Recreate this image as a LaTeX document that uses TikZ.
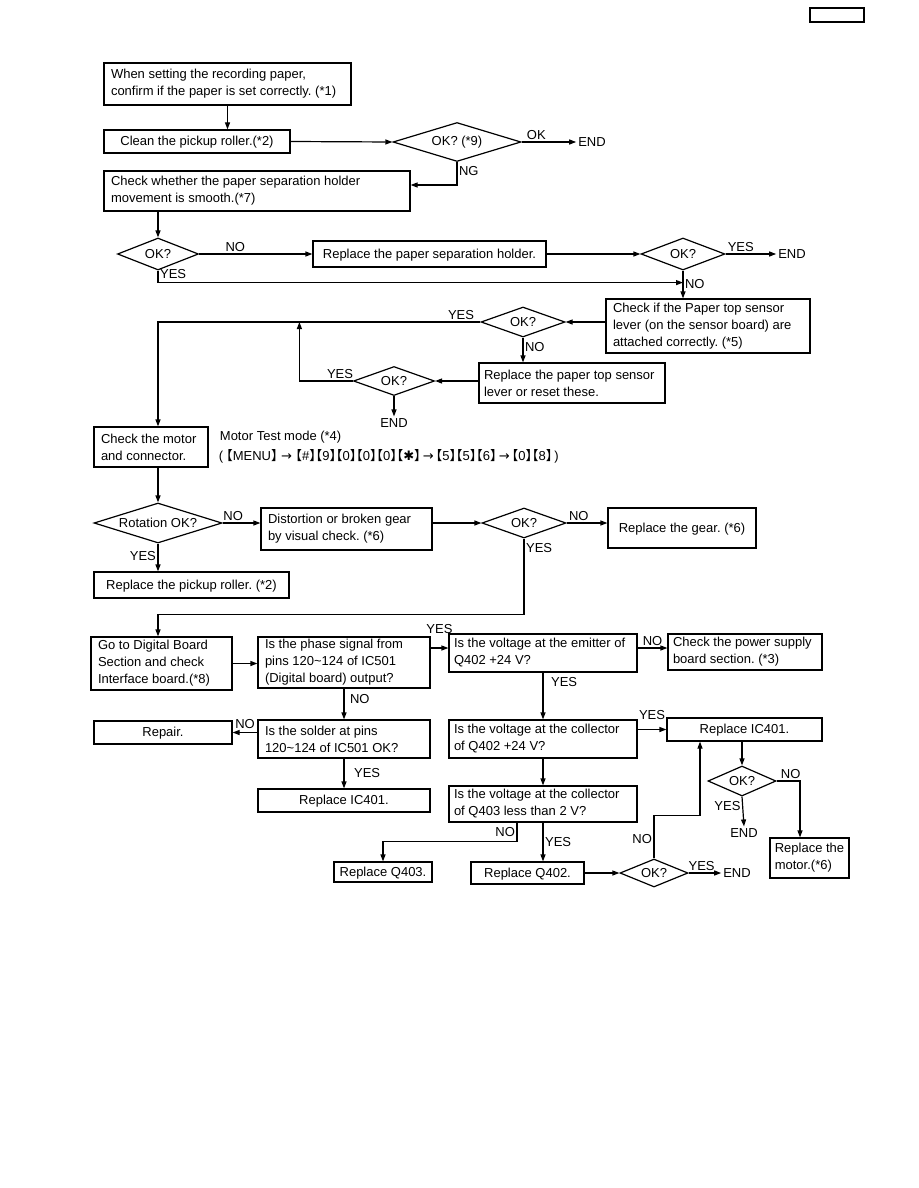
\documentclass[tikz,border=0pt]{standalone}
\usepackage{fontspec}
\setmainfont{Liberation Sans}
\newfontfamily\bracketfont[RawFeature=+halt]{Noto Sans CJK JP}
\newfontfamily\symbolfont{DejaVu Sans}
\usetikzlibrary{shapes.geometric, arrows.meta}

\newcommand{\mainsize}{\fontsize{13}{17}\selectfont\frenchspacing\hyphenpenalty=10000\relax}
\newcommand{\keytop}[1]{{\bracketfont 【}#1{\bracketfont 】}}
\newcommand{\rarr}{{\symbolfont →}}

\begin{document}
\begin{tikzpicture}[
    x=1pt, y=-1pt,
    line width=1.2pt,
    font=\mainsize,
    box/.style={draw, rectangle, inner xsep=7pt, inner ysep=2pt, align=flush left},
    onebox/.style={box, inner xsep=3pt, text height=9pt, text depth=0.5pt},
    check/.style={draw, diamond, inner sep=0pt, aspect=3},
    lbl/.style={inner sep=1.5pt},
    arrow/.style={-{Triangle[length=7pt, width=5pt]}}
  ]
    \useasboundingbox (0,0) rectangle (918,1188);

    % page number frame
    \node[draw, minimum width=54pt, minimum height=14pt] (pagebox) at (837,15) {};

    % Paper setting and pickup roller
    \node[box, text width=233pt, minimum height=42pt] (setpaper) at (227.5,84) {When setting the recording paper,\\confirm if the paper is set correctly. (*1)};
    \node[onebox, minimum width=186pt, minimum height=23pt] (clean) at (197,141.5) {Clean the pickup roller.(*2)};
    \node[check, minimum width=128pt, minimum height=39pt] (ok1) at (457,142) {OK? (*9)};
    \node[lbl] (end1) at (592,142) {END};
    \node[box, text width=292pt, minimum height=40pt] (holder) at (257,191) {Check whether the paper separation holder\\movement is smooth.(*7)};

    % Separation holder
    \node[check, minimum width=81pt, minimum height=32pt] (ok2) at (158,254) {OK?};
    \node[onebox, minimum width=233pt, minimum height=26pt] (repholder) at (429.5,254) {Replace the paper separation holder.};
    \node[check, minimum width=84pt, minimum height=32pt] (ok3) at (683,254) {OK?};
    \node[lbl] (end2) at (792,254) {END};

    % Paper top sensor
    \node[box, text width=190pt, minimum height=54pt] (sensor) at (708,326) {Check if the Paper top sensor\\lever (on the sensor board) are\\attached correctly. (*5)};
    \node[check, minimum width=84pt, minimum height=30pt] (ok4) at (523,322) {OK?};
    \node[box, inner xsep=5pt, text width=176pt, minimum height=40pt] (repsensor) at (572,383) {Replace the paper top sensor\\lever or reset these.};
    \node[check, minimum width=81pt, minimum height=29pt] (ok5) at (394,381) {OK?};
    \node[lbl] (end3) at (394,423) {END};

    % Motor
    \node[box, text width=100pt, minimum height=40pt] (motor) at (151,447) {Check the motor\\and connector.};
    \node[anchor=west] (mtest) at (216,437) {Motor Test mode (*4)};
    \node[anchor=west] (mkeys) at (215,456) {(\kern3pt\keytop{MENU} \rarr\ \keytop{\#}\keytop{9}\keytop{0}\keytop{0}\keytop{0}\keytop{{\symbolfont ✱}}\,\rarr\,\keytop{5}\keytop{5}\keytop{6}\,\rarr\,\keytop{0}\keytop{8}\kern2pt)};
    \node[check, minimum width=128pt, minimum height=40pt] (rot) at (158,523) {Rotation OK?};
    \node[box, text width=157pt, minimum height=42pt] (gear) at (346.5,529) {Distortion or broken gear\\by visual check. (*6)};
    \node[check, minimum width=84pt, minimum height=30pt] (ok7) at (524,523) {OK?};
    \node[onebox, minimum width=148pt, minimum height=40pt] (repgear) at (682,528) {Replace the gear. (*6)};
    \node[onebox, minimum width=195pt, minimum height=26pt] (roller) at (191.5,585) {Replace the pickup roller. (*2)};

    % Digital board and drive circuit
    \node[box, text width=127pt, minimum height=53pt] (digital) at (161.5,663.5) {Go to Digital Board\\Section and check\\Interface board.(*8)};
    \node[box, text width=158pt, minimum height=51pt] (phase) at (344,662.5) {Is the phase signal from\\pins 120\textasciitilde124 of IC501\\(Digital board) output?};
    \node[box, inner xsep=5pt, text width=178pt, minimum height=38pt] (emitter) at (543,653) {Is the voltage at the emitter of\\Q402 +24 V?};
    \node[box, inner xsep=5pt, text width=144pt, minimum height=36pt] (power) at (745,652) {Check the power supply\\board section. (*3)};
    \node[box, text width=158pt, minimum height=38pt] (solder) at (344,739) {Is the solder at pins\\120\textasciitilde124 of IC501 OK?};
    \node[onebox, minimum width=138pt, minimum height=23pt] (repair) at (163,732.5) {Repair.};
    \node[onebox, minimum width=172pt, minimum height=23pt] (ic1) at (344,800.5) {Replace IC401.};
    \node[box, inner xsep=5pt, text width=178pt, minimum height=38pt] (coll402) at (543,739) {Is the voltage at the collector\\of Q402 +24 V?};
    \node[onebox, minimum width=155pt, minimum height=23pt] (ic2) at (744.5,729.5) {Replace IC401.};
    \node[box, inner xsep=5pt, text width=178pt, minimum height=36pt] (coll403) at (543,804) {Is the voltage at the collector\\of Q403 less than 2 V?};
    \node[onebox, minimum width=98pt, minimum height=20pt] (q403) at (383,872) {Replace Q403.};
    \node[onebox, minimum width=113pt, minimum height=22pt] (q402) at (527.5,873) {Replace Q402.};
    \node[check, minimum width=68pt, minimum height=28pt] (ok8) at (654,873) {OK?};
    \node[lbl] (end4) at (737,873) {END};
    \node[check, minimum width=68pt, minimum height=30pt] (ok9) at (742,781) {OK?};
    \node[box, inner xsep=4pt, minimum width=79pt, minimum height=40pt] (repmotor) at (809.5,858) {Replace the\\motor.(*6)};
    \node[lbl] (end5) at (744,833) {END};

    % Connectors, top part
    \draw[arrow] (setpaper.south) -- (setpaper.south |- clean.north);
    \draw[arrow] (clean.east) -- (ok1.west);
    \draw[arrow] (ok1.east) -- node[lbl, above, pos=0.27] {OK} (end1.west);
    \draw[arrow] (ok1.south) |- node[lbl, right, pos=0.2] {NG} ([yshift=6pt]holder.east);
    \draw[arrow] (holder.south -| ok2.north) -- (ok2.north);
    \draw[arrow] (ok2.east) -- node[lbl, above, pos=0.32] {NO} (repholder.west);
    \draw[arrow] (repholder.east) -- (ok3.west);
    \draw[arrow] (ok3.east) -- node[lbl, above, pos=0.3] {YES} (end2.west);
    \draw[arrow] (ok2.south) |- node[lbl, right, pos=0.15] {YES} ([yshift=-12pt]ok3.south);
    \draw[arrow] (ok3.south) -- node[lbl, right, pos=0.5] {NO} (ok3.south |- sensor.north);
    \draw[arrow] (ok4.east -| sensor.west) -- (ok4.east);
    \draw[arrow] (ok4.west) -| node[lbl, above, pos=0.03] {YES} (rot.north |- motor.north);
    \draw[arrow] (ok4.south) -- node[lbl, right, pos=0.4] {NO} (ok4.south |- repsensor.north);
    \draw[arrow] (ok5.east -| repsensor.west) -- (ok5.east);
    \draw[arrow] (ok5.west) -| node[lbl, above, pos=0.12] {YES} ([xshift=-181pt]ok4.west);
    \draw[arrow] (ok5.south) -- (end3.north);

    % Connectors, motor check
    \draw[arrow] (rot.north |- motor.south) -- (rot.north);
    \draw[arrow] (rot.east) -- node[lbl, above, pos=0.28] {NO} (rot.east -| gear.west);
    \draw[arrow] (ok7.west -| gear.east) -- (ok7.west);
    \draw[arrow] (ok7.east) -- node[lbl, above, pos=0.3] {NO} (ok7.east -| repgear.west);
    \draw[arrow] (rot.south) -- node[lbl, left, pos=0.45] {YES} (rot.south |- roller.north);
    \draw[arrow] (ok7.south) -- node[lbl, right, pos=0.13] {YES} ++(0,76) -| (rot.south |- digital.north);

    % Connectors, bottom part
    \draw[arrow] (digital.east) -- (digital.east -| phase.west);
    \draw[arrow] ([yshift=5pt]emitter.west -| phase.east) -- node[lbl, above=12pt] {YES} ([yshift=5pt]emitter.west);
    \draw[arrow] ([yshift=5pt]emitter.east) -- node[lbl, above] {NO} ([yshift=5pt]emitter.east -| power.west);
    \draw[arrow] (emitter.south) -- node[lbl, right=6pt, pos=0.2] {YES} (coll402.north);
    \draw[arrow] (phase.south) -- node[lbl, right=4pt, pos=0.35] {NO} (solder.north);
    \draw[arrow] (repair.east -| solder.west) -- node[lbl, above=2pt] {NO} (repair.east);
    \draw[arrow] (solder.south) -- node[lbl, right=8pt, pos=0.5] {YES} (ic1.north);
    \draw[arrow] (ic2.west -| coll402.east) -- node[lbl, above=8pt] {YES} (ic2.west);
    \draw[arrow] (coll402.south) -- (coll403.north);
    \draw[arrow] ([xshift=-26pt]coll403.south) -- node[lbl, left, pos=0.5] {NO} ++(0,19) -| (q403.north);
    \draw[arrow] (coll403.south) -- node[lbl, right, pos=0.5] {YES} (coll403.south |- q402.north);
    \draw[arrow] (ok8.west -| q402.east) -- (ok8.west);
    \draw[arrow] (ok8.east) -- node[lbl, above, pos=0.4] {YES} (end4.west);
    \draw[arrow] (ok8.north) -- node[lbl, left, pos=0.45] {NO} ++(0,-43) -| ([xshift=-44.5pt]ic2.south);
    \draw[arrow] (ic2.south -| ok9.north) -- (ok9.north);
    \draw[arrow] (ok9.east) -| node[lbl, above, pos=0.3] {NO} ([xshift=-9.5pt]repmotor.north);
    \draw[arrow] (ok9.south) -- node[lbl, left, pos=0.3] {YES} (end5.north);

  \end{tikzpicture}
\end{document}
